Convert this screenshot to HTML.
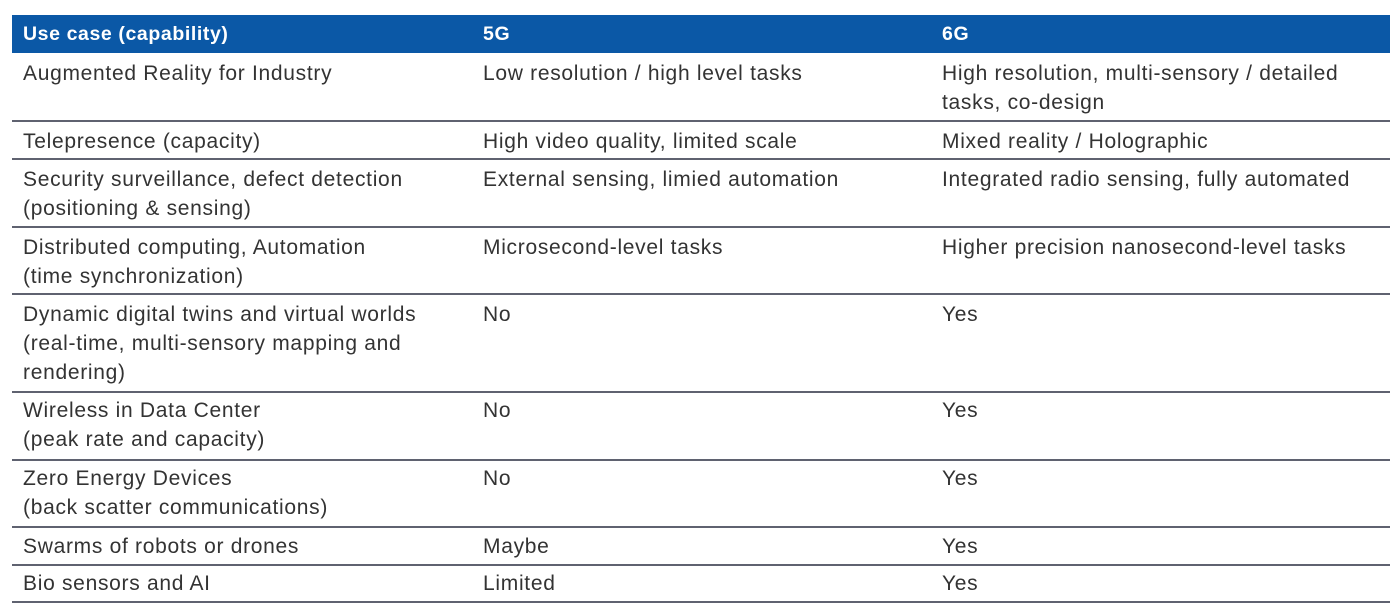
<!DOCTYPE html>
<html><head><meta charset="utf-8"><style>
body{margin:0;width:1400px;height:615px;background:#fff;position:relative;overflow:hidden;font-family:"Liberation Sans",sans-serif;}
.h{position:absolute;left:12px;top:15px;width:1378px;height:38px;background:#0b58a6;}
.ht{position:absolute;top:15px;height:38px;line-height:38px;color:#fff;font-weight:bold;font-size:19.5px;letter-spacing:0.6px;}
.l{position:absolute;left:12px;width:1378px;height:2px;background:#5f6270;}
.c{position:absolute;font-size:21px;line-height:29px;color:#333;white-space:nowrap;letter-spacing:0.7px;}
</style></head><body>
<div class="h"></div>
<div class="ht" style="left:23px">Use case (capability)</div>
<div class="ht" style="left:483px">5G</div>
<div class="ht" style="left:942px">6G</div>

<div class="l" style="top:120px"></div>
<div class="l" style="top:158px"></div>
<div class="l" style="top:226px"></div>
<div class="l" style="top:293px"></div>
<div class="l" style="top:391px"></div>
<div class="l" style="top:459px"></div>
<div class="l" style="top:526px"></div>
<div class="l" style="top:564px"></div>
<div class="l" style="top:601px"></div>

<div class="c" style="left:23px;top:59px">Augmented Reality for Industry</div>
<div class="c" style="left:483px;top:59px">Low resolution / high level tasks</div>
<div class="c" style="left:942px;top:59px">High resolution, multi-sensory / detailed<br>tasks, co-design</div>

<div class="c" style="left:23px;top:127px">Telepresence (capacity)</div>
<div class="c" style="left:483px;top:127px">High video quality, limited scale</div>
<div class="c" style="left:942px;top:127px">Mixed reality / Holographic</div>

<div class="c" style="left:23px;top:165px">Security surveillance, defect detection<br>(positioning &amp; sensing)</div>
<div class="c" style="left:483px;top:165px">External sensing, limied automation</div>
<div class="c" style="left:942px;top:165px">Integrated radio sensing, fully automated</div>

<div class="c" style="left:23px;top:233px">Distributed computing, Automation<br>(time synchronization)</div>
<div class="c" style="left:483px;top:233px">Microsecond-level tasks</div>
<div class="c" style="left:942px;top:233px">Higher precision nanosecond-level tasks</div>

<div class="c" style="left:23px;top:300px">Dynamic digital twins and virtual worlds<br>(real-time, multi-sensory mapping and<br>rendering)</div>
<div class="c" style="left:483px;top:300px">No</div>
<div class="c" style="left:942px;top:300px">Yes</div>

<div class="c" style="left:23px;top:396px">Wireless in Data Center<br>(peak rate and capacity)</div>
<div class="c" style="left:483px;top:396px">No</div>
<div class="c" style="left:942px;top:396px">Yes</div>

<div class="c" style="left:23px;top:464px">Zero Energy Devices<br>(back scatter communications)</div>
<div class="c" style="left:483px;top:464px">No</div>
<div class="c" style="left:942px;top:464px">Yes</div>

<div class="c" style="left:23px;top:532px">Swarms of robots or drones</div>
<div class="c" style="left:483px;top:532px">Maybe</div>
<div class="c" style="left:942px;top:532px">Yes</div>

<div class="c" style="left:23px;top:569px">Bio sensors and AI</div>
<div class="c" style="left:483px;top:569px">Limited</div>
<div class="c" style="left:942px;top:569px">Yes</div>
</body></html>
